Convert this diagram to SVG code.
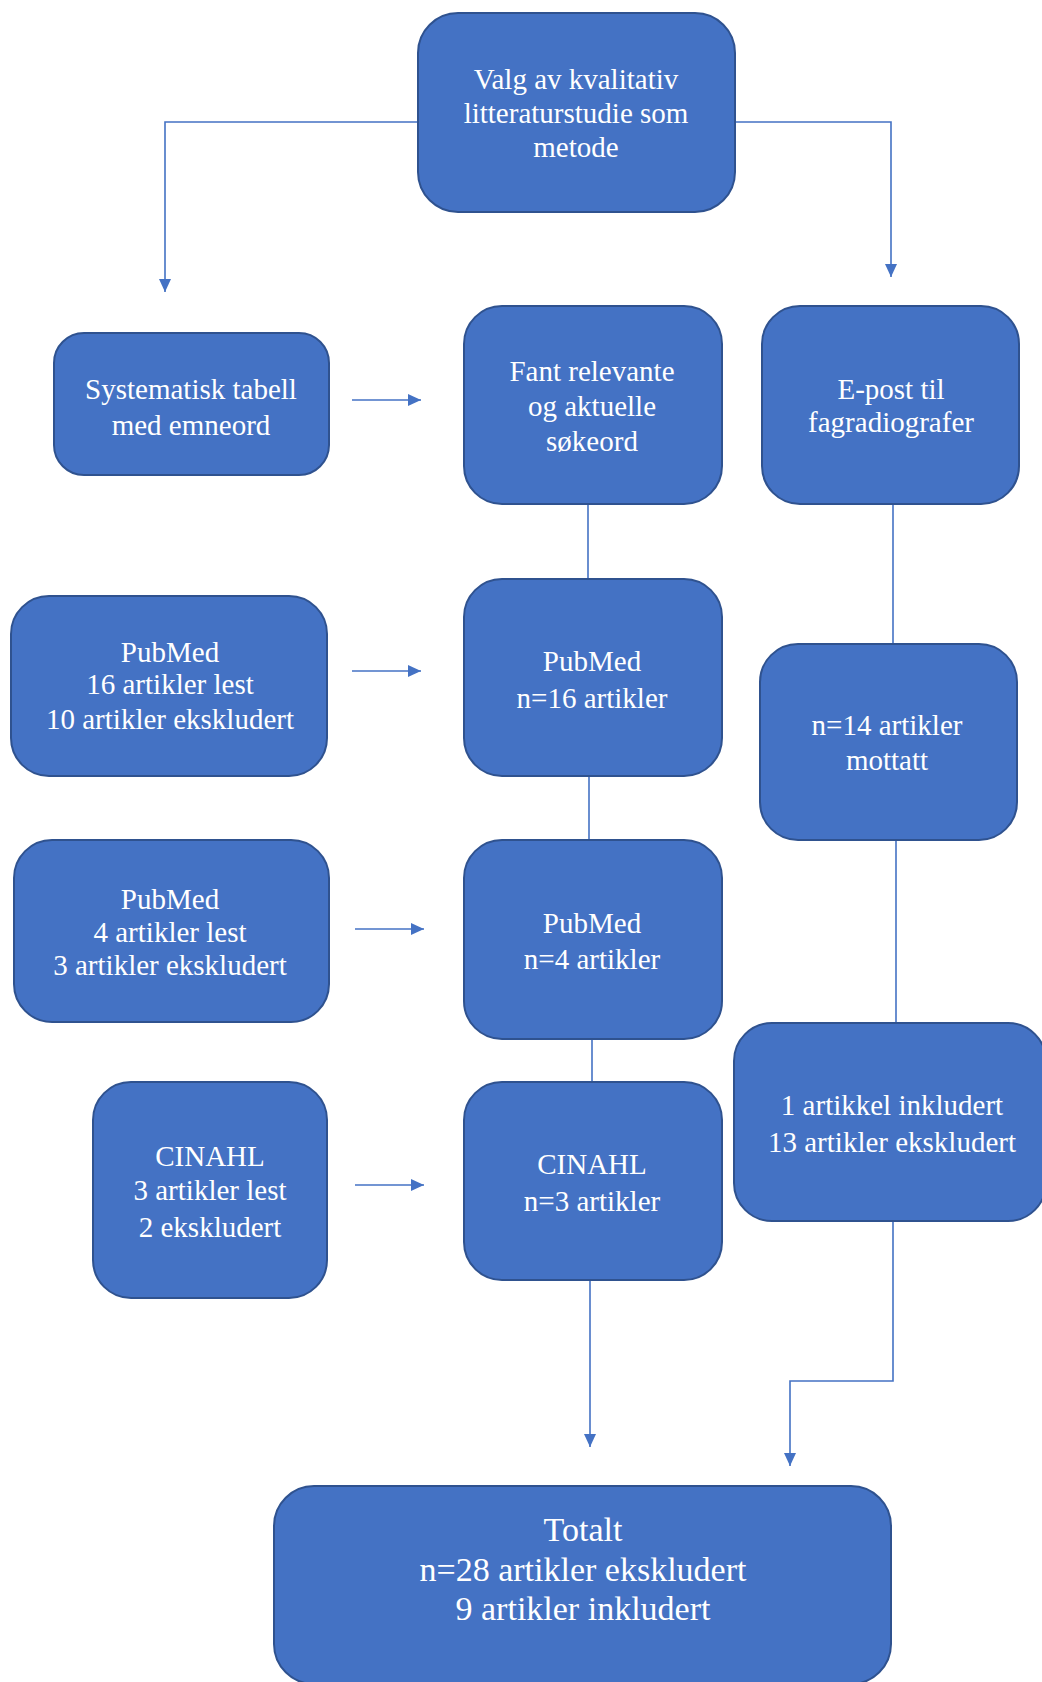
<svg xmlns="http://www.w3.org/2000/svg" width="1042" height="1682" viewBox="0 0 1042 1682">
<style>
.box{fill:#4472C4;stroke:#2F528F;stroke-width:2}
.t{font-family:"Liberation Serif","Times New Roman",serif;font-size:29px;fill:#fff;text-anchor:middle}
.big{font-size:34px}
.c{fill:none;stroke:#4472C4;stroke-width:1.6}
</style>
<defs>
<marker id="ah" markerUnits="userSpaceOnUse" markerWidth="14" markerHeight="12" refX="13" refY="6" orient="auto">
<path d="M0,0 L13,6 L0,12 Z" fill="#4472C4"/>
</marker>
</defs>
<rect width="1042" height="1682" fill="#fff"/>
<g id="connectors">
<path class="c" d="M418,122 H165 V292" marker-end="url(#ah)"/>
<path class="c" d="M735,122 H891 V277" marker-end="url(#ah)"/>
<path class="c" d="M352,400 H421" marker-end="url(#ah)"/>
<path class="c" d="M588,504 V579"/>
<path class="c" d="M893,504 V644"/>
<path class="c" d="M352,671 H421" marker-end="url(#ah)"/>
<path class="c" d="M589,776 V840"/>
<path class="c" d="M355,929 H424" marker-end="url(#ah)"/>
<path class="c" d="M896,840 V1023"/>
<path class="c" d="M592,1039 V1082"/>
<path class="c" d="M355,1185 H424" marker-end="url(#ah)"/>
<path class="c" d="M590,1280 V1447" marker-end="url(#ah)"/>
<path class="c" d="M893,1221 V1381 H790 V1466" marker-end="url(#ah)"/>
</g>
<g id="valg">
<rect class="box" x="418" y="13" width="317" height="199" rx="40"/>
<text class="t" x="576" y="89">Valg av kvalitativ</text>
<text class="t" x="576" y="123">litteraturstudie som</text>
<text class="t" x="576" y="157">metode</text>
</g>
<g id="systematisk">
<rect class="box" x="54" y="333" width="275" height="142" rx="30"/>
<text class="t" x="191" y="399">Systematisk tabell</text>
<text class="t" x="191" y="435">med emneord</text>
</g>
<g id="fant">
<rect class="box" x="464" y="306" width="258" height="198" rx="38"/>
<text class="t" x="592" y="381">Fant relevante</text>
<text class="t" x="592" y="416">og aktuelle</text>
<text class="t" x="592" y="451">søkeord</text>
</g>
<g id="epost">
<rect class="box" x="762" y="306" width="257" height="198" rx="38"/>
<text class="t" x="891" y="399">E-post til</text>
<text class="t" x="891" y="432">fagradiografer</text>
</g>
<g id="pubmed16left">
<rect class="box" x="11" y="596" width="316" height="180" rx="38"/>
<text class="t" x="170" y="662">PubMed</text>
<text class="t" x="170" y="694">16 artikler lest</text>
<text class="t" x="170" y="729">10 artikler ekskludert</text>
</g>
<g id="pubmed16">
<rect class="box" x="464" y="579" width="258" height="197" rx="38"/>
<text class="t" x="592" y="671">PubMed</text>
<text class="t" x="592" y="708">n=16 artikler</text>
</g>
<g id="n14">
<rect class="box" x="760" y="644" width="257" height="196" rx="38"/>
<text class="t" x="887" y="735">n=14 artikler</text>
<text class="t" x="887" y="770">mottatt</text>
</g>
<g id="pubmed4left">
<rect class="box" x="14" y="840" width="315" height="182" rx="38"/>
<text class="t" x="170" y="909">PubMed</text>
<text class="t" x="170" y="942">4 artikler lest</text>
<text class="t" x="170" y="975">3 artikler ekskludert</text>
</g>
<g id="pubmed4">
<rect class="box" x="464" y="840" width="258" height="199" rx="38"/>
<text class="t" x="592" y="933">PubMed</text>
<text class="t" x="592" y="969">n=4 artikler</text>
</g>
<g id="inkludert1">
<rect class="box" x="734" y="1023" width="312" height="198" rx="38"/>
<text class="t" x="892" y="1115">1 artikkel inkludert</text>
<text class="t" x="892" y="1152">13 artikler ekskludert</text>
</g>
<g id="cinahlleft">
<rect class="box" x="93" y="1082" width="234" height="216" rx="38"/>
<text class="t" x="210" y="1166">CINAHL</text>
<text class="t" x="210" y="1200">3 artikler lest</text>
<text class="t" x="210" y="1237">2 ekskludert</text>
</g>
<g id="cinahl">
<rect class="box" x="464" y="1082" width="258" height="198" rx="38"/>
<text class="t" x="592" y="1174">CINAHL</text>
<text class="t" x="592" y="1211">n=3 artikler</text>
</g>
<g id="totalt">
<rect class="box" x="274" y="1486" width="617" height="198" rx="40"/>
<text class="t big" x="583" y="1541">Totalt</text>
<text class="t big" x="583" y="1581">n=28 artikler ekskludert</text>
<text class="t big" x="583" y="1620">9 artikler inkludert</text>
</g>
</svg>
